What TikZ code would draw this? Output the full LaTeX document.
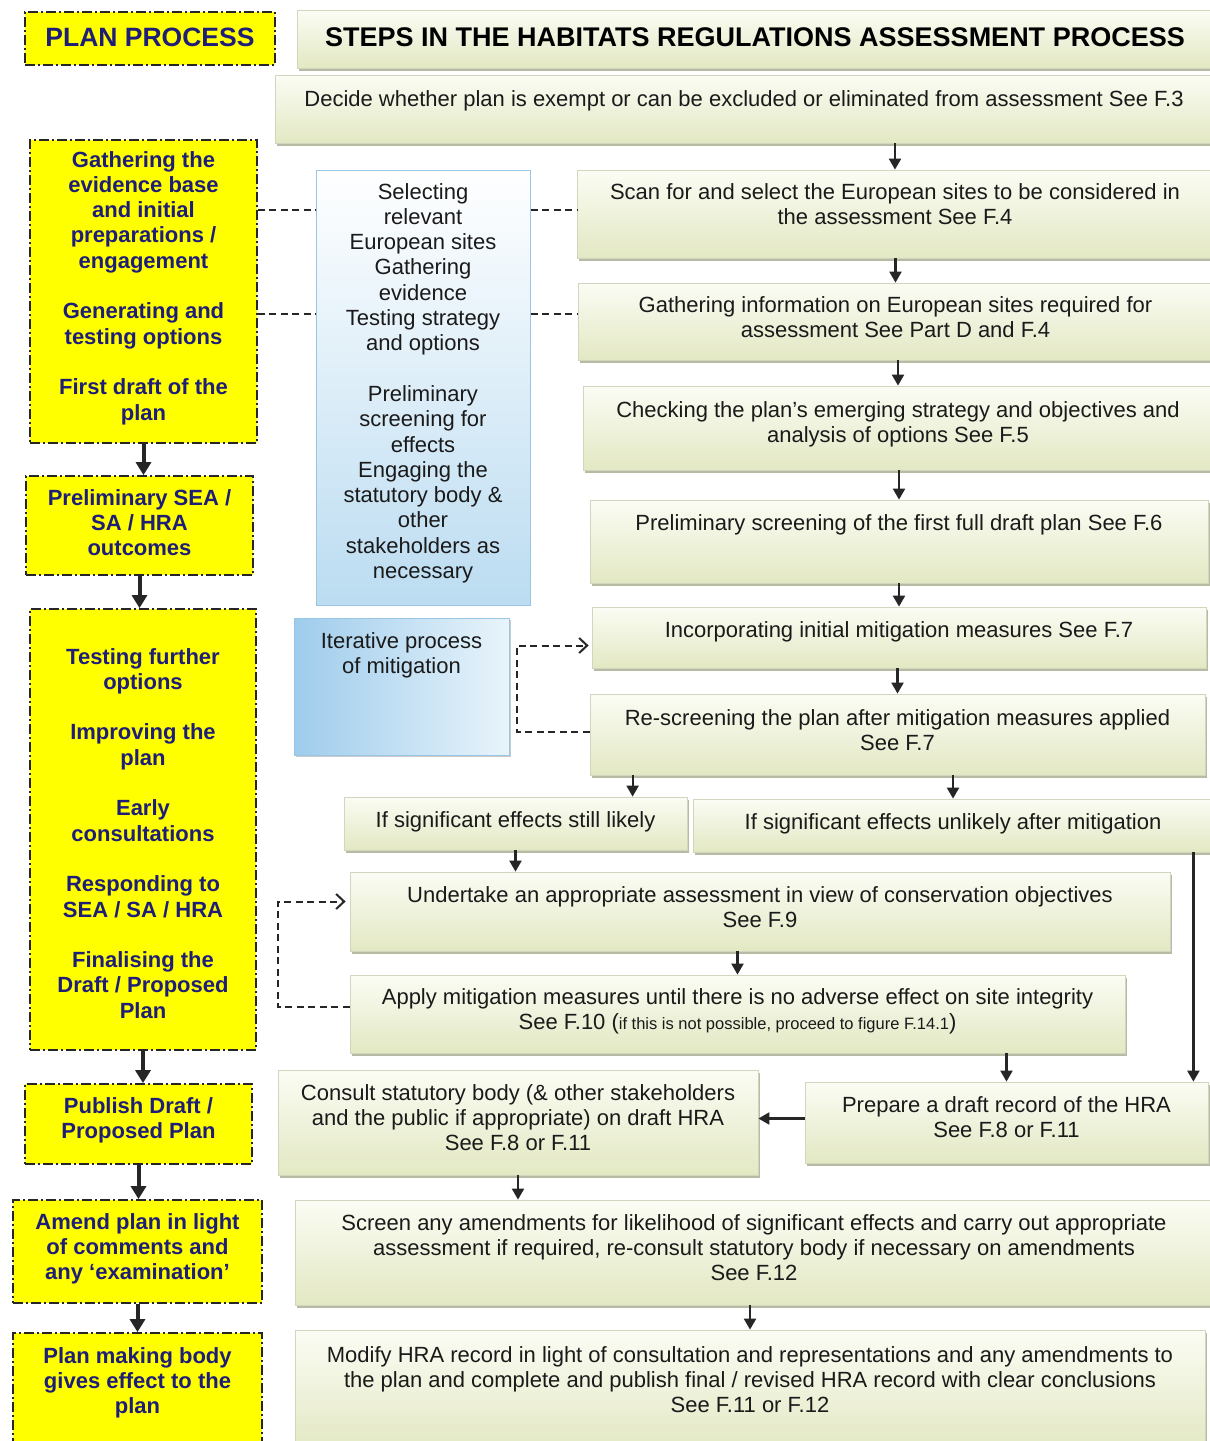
\documentclass[tikz,border=0pt]{standalone}
\usepackage{fontspec}
\setmainfont{Liberation Sans}
\usetikzlibrary{arrows.meta,shadows,calc}
\definecolor{yel}{HTML}{FFFF00}
\definecolor{navy}{HTML}{1E1E78}
\definecolor{gtop}{HTML}{FBFCF4}
\definecolor{gbot}{HTML}{E3E8C3}
\definecolor{gline}{HTML}{D3D6BE}
\definecolor{gshad}{HTML}{A7AB8C}
\definecolor{bbot}{HTML}{BBDCF1}
\definecolor{bline}{HTML}{98C6E4}
\definecolor{ileft}{HTML}{9FCCEC}
\definecolor{iright}{HTML}{E8F4FB}
\definecolor{txt}{HTML}{1A1A1A}
\newcommand\mkbox[8]{%
 \node[#1, minimum width={(#5)-(#3)}, minimum height={(#6)-(#4)}] (#2) at ({((#3)+(#5))/2},{((#4)+(#6))/2}) {};
 \node[#1txt, anchor=base] (#2t) at ({((#3)+(#5))/2},#7) {\begin{tabular}[t]{@{}c@{}}#8\end{tabular}};}
\tikzset{
 gbx/.style={draw=gline, line width=0.8pt, top color=gtop, bottom color=gbot, inner sep=0pt,
   drop shadow={shadow xshift=1.5pt, shadow yshift=-3pt, fill=gshad, opacity=.8}},
 gbxtxt/.style={inner sep=0pt, text=txt, font=\fontsize{22}{25.3}\selectfont},
 hbx/.style={gbx},
 hbxtxt/.style={inner sep=0pt, text=black, font=\bfseries\fontsize{27}{30}\selectfont},
 ybx/.style={fill=yel, draw=black!85, line width=1.8pt, dash pattern=on 10pt off 3pt on 2pt off 3pt, inner sep=0pt},
 ybxtxt/.style={inner sep=0pt, text=navy, font=\bfseries\fontsize{22}{25.3}\selectfont},
 pbx/.style={ybx},
 pbxtxt/.style={inner sep=0pt, text=navy, font=\bfseries\fontsize{26.5}{30}\selectfont},
 bbx/.style={draw=bline, line width=1pt, top color=white, bottom color=bbot, inner sep=0pt},
 bbxtxt/.style={gbxtxt},
 ibx/.style={draw=bline, line width=1pt, left color=ileft, right color=iright, inner sep=0pt,
   drop shadow={shadow xshift=1.5pt, shadow yshift=-2pt, fill=black!40, opacity=.5}},
 ibxtxt/.style={gbxtxt},
 arr/.style={line width=2.2pt, draw=black!85, -{Triangle[length=11pt,width=12pt]}},
 larr/.style={line width=4pt, draw=black!85, -{Triangle[length=13pt,width=15pt]}},
 dsh/.style={line width=2pt, draw=black!85, dash pattern=on 7pt off 4.5pt},
 darr/.style={dsh, -{Straight Barb[length=8pt,width=15pt,line width=2pt]}},
}
\begin{document}
\begin{tikzpicture}[x=1pt,y=-1pt]
\useasboundingbox (0,0) rectangle (1210,1441);
\fill[white] (0,0) rectangle (1210,1441);
% left column
\mkbox{pbx}{pp}{25}{12}{275}{65}{46}{PLAN PROCESS}
\mkbox{ybx}{gather}{30}{140}{257}{443}{167}{Gathering the\\evidence base\\and initial\\preparations /\\engagement\\[25.3pt]Generating and\\testing options\\[25.3pt]First draft of the\\plan}
\mkbox{ybx}{psea}{26}{476}{253}{575}{505}{Preliminary SEA /\\SA / HRA\\outcomes}
\mkbox{ybx}{testing}{30}{609}{256}{1050}{664}{Testing further\\options\\[25.3pt]Improving the\\plan\\[25.3pt]Early\\consultations\\[25.3pt]Responding to\\SEA / SA / HRA\\[25.3pt]Finalising the\\Draft / Proposed\\Plan}
\mkbox{ybx}{publish}{25}{1084}{252}{1164}{1113}{Publish Draft /\\Proposed Plan}
\mkbox{ybx}{amend}{13}{1200}{262}{1303}{1229}{Amend plan in light\\of comments and\\any ‘examination’}
\mkbox{ybx}{pmb}{13}{1333}{262}{1450}{1363}{Plan making body\\gives effect to the\\plan}
% header and steps
\mkbox{hbx}{hdr}{297}{10}{1213}{68}{46}{STEPS IN THE HABITATS REGULATIONS ASSESSMENT PROCESS}
\mkbox{gbx}{decide}{275}{75}{1213}{143}{106}{Decide whether plan is exempt or can be excluded or eliminated from assessment See F.3}
\mkbox{gbx}{scan}{577}{170}{1213}{258}{199}{Scan for and select the European sites to be considered in\\the assessment See F.4}
\mkbox{gbx}{ginfo}{578}{283}{1213}{360}{312}{Gathering information on European sites required for\\assessment See Part D and F.4}
\mkbox{gbx}{check}{583}{386}{1213}{470}{417}{Checking the plan’s emerging strategy and objectives and\\analysis of options See F.5}
\mkbox{gbx}{prescreen}{590}{500}{1208}{583}{530}{Preliminary screening of the first full draft plan See F.6}
\mkbox{gbx}{incorp}{592}{607}{1206}{668}{637}{Incorporating initial mitigation measures See F.7}
\mkbox{gbx}{rescreen}{590}{694}{1205}{775}{725}{Re-screening the plan after mitigation measures applied\\See F.7}
\mkbox{gbx}{likely}{344}{797}{687}{850}{827}{If significant effects still likely}
\mkbox{gbx}{unlikely}{693}{799}{1213}{852}{829}{If significant effects unlikely after mitigation}
\mkbox{gbx}{undertake}{350}{872}{1170}{951}{902}{Undertake an appropriate assessment in view of conservation objectives\\See F.9}
\mkbox{gbx}{apply}{350}{975}{1125}{1053}{1004}{Apply mitigation measures until there is no adverse effect on site integrity\\See F.10 ({\fontsize{16.5}{18}\selectfont if this is not possible, proceed to figure F.14.1})}
\mkbox{gbx}{consult}{278}{1070}{758}{1175}{1100}{Consult statutory body (\& other stakeholders\\and the public if appropriate) on draft HRA\\See F.8 or F.11}
\mkbox{gbx}{prepare}{805}{1082}{1208}{1163}{1112}{Prepare a draft record of the HRA\\See F.8 or F.11}
\mkbox{gbx}{screen}{295}{1200}{1213}{1305}{1230}{Screen any amendments for likelihood of significant effects and carry out appropriate\\assessment if required, re-consult statutory body if necessary on amendments\\See F.12}
\mkbox{gbx}{modify}{295}{1330}{1205}{1450}{1362}{Modify HRA record in light of consultation and representations and any amendments to\\the plan and complete and publish final / revised HRA record with clear conclusions\\See F.11 or F.12}
% blue boxes
\mkbox{bbx}{select}{316}{170}{530}{605}{199}{Selecting\\relevant\\European sites\\Gathering\\evidence\\Testing strategy\\and options\\[25.3pt]Preliminary\\screening for\\effects\\Engaging the\\statutory body \&\\other\\stakeholders as\\necessary}
\mkbox{ibx}{iter}{294}{618}{509}{755}{648}{Iterative process\\of mitigation}
% left arrows
\draw[larr] (gather.south) -- (gather.south |- psea.north);
\draw[larr] (psea.south) -- (psea.south |- testing.north);
\draw[larr] (testing.south) -- (testing.south |- publish.north);
\draw[larr] (publish.south) -- (publish.south |- amend.north);
\draw[larr] (amend.south) -- (amend.south |- pmb.north);
% right arrows
\draw[arr] (decide.south -| scan.north) -- (scan.north);
\draw[arr] (scan.south -| ginfo.north) -- (ginfo.north);
\draw[arr] (ginfo.south -| check.north) -- (check.north);
\draw[arr] (check.south -| prescreen.north) -- (prescreen.north);
\draw[arr] (prescreen.south -| incorp.north) -- (incorp.north);
\draw[arr] (incorp.south -| rescreen.north) -- (rescreen.north);
\coordinate (r1) at ($(rescreen.south west)+(43,0)$);
\draw[arr] (r1) -- (r1 |- likely.north);
\draw[arr] (rescreen.south -| unlikely.north) -- (unlikely.north);
\draw[arr] (likely.south) -- (likely.south |- undertake.north);
\draw[arr] (undertake.south -| apply.north) -- (apply.north);
\draw[arr] (apply.south -| prepare.north) -- (prepare.north);
\coordinate (u1) at ($(unlikely.south east)+(-20,0)$);
\draw[arr] (u1) -- (u1 |- prepare.north);
\draw[arr] ($(prepare.west)+(0,-4)$) -- ($(consult.east |- prepare.west)+(0,-4)$);
\draw[arr] (consult.south) -- (consult.south |- screen.north);
\draw[arr] (screen.south -| modify.north) -- (modify.north);
% dashed links
\draw[dsh] ($(gather.east |- scan.west)+(0,-4)$) -- ($(select.west |- scan.west)+(0,-4)$);
\draw[dsh] ($(select.east |- scan.west)+(0,-4)$) -- ($(scan.west)+(0,-4)$);
\draw[dsh] ($(gather.east |- ginfo.west)+(0,-8)$) -- ($(select.west |- ginfo.west)+(0,-8)$);
\draw[dsh] ($(select.east |- ginfo.west)+(0,-8)$) -- ($(ginfo.west)+(0,-8)$);
\draw[darr] ($(rescreen.west)+(0,-3)$) -- ++(-73,0) |- ($(incorp.west)+(-3,8)$);
\draw[darr] ($(apply.west)+(0,-7)$) -- ++(-72,0) |- ($(undertake.west)+(-4,-10)$);
\end{tikzpicture}
\end{document}
